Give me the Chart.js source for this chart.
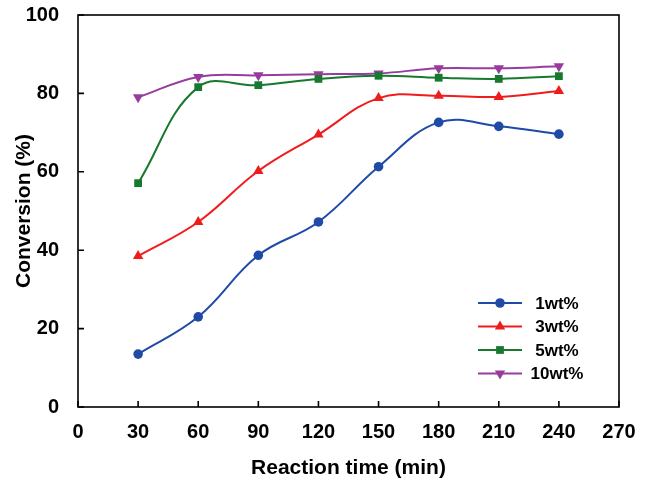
<!DOCTYPE html>
<html><head><meta charset="utf-8">
<script src="https://cdn.jsdelivr.net/npm/chart.js@4/dist/chart.umd.min.js"></script>
<style>html,body{margin:0;padding:0;background:#fff}#wrap{width:655px;height:484px}</style>
</head><body><div id="wrap"><canvas id="c"></canvas></div>
<script>
const times = [30, 60, 90, 120, 150, 180, 210, 240];
const s1wt = [13.5, 23.0, 38.7, 47.2, 61.3, 72.6, 71.6, 69.6];
const s3wt = [38.5, 47.2, 60.2, 69.5, 78.8, 79.4, 79.1, 80.6];
const s5wt = [57.1, 81.6, 82.1, 83.7, 84.5, 84.0, 83.7, 84.4];
const s10wt = [79.0, 84.2, 84.6, 84.9, 85.1, 86.4, 86.4, 86.9];
const seriesNames = ['1wt%', '3wt%', '5wt%', '10wt%'];
const xTicks = [0, 30, 60, 90, 120, 150, 180, 210, 240, 270];
const yTicks = [0, 20, 40, 60, 80, 100];

const FONT = "'Liberation Sans', Arial, sans-serif";
const styles = [
  {color:'#1f4aa8', pt:'circle', rot:0, r:4.8},
  {color:'#f01c1c', pt:'triangle', rot:0, r:6},
  {color:'#17792e', pt:'rect', rot:0, r:5.5},
  {color:'#973c9e', pt:'triangle', rot:180, r:6}
];
const vals = [s1wt, s3wt, s5wt, s10wt];
const datasets = vals.map((v,i)=>({
  label: seriesNames[i],
  data: times.map((t,j)=>({x:t, y:v[j]})),
  borderColor: styles[i].color,
  backgroundColor: styles[i].color,
  borderWidth: 2,
  pointStyle: styles[i].pt,
  rotation: styles[i].rot,
  pointRadius: styles[i].r,
  pointHoverRadius: styles[i].r,
  pointBorderWidth: 0,
  tension: 0.4,
  cubicInterpolationMode: 'default'
}));

const framePlugin = {
  id:'frame',
  afterDraw(chart){
    const {ctx, chartArea:a, scales:{x,y}} = chart;
    ctx.save();
    ctx.strokeStyle='#000'; ctx.lineWidth=1.6;
    ctx.strokeRect(a.left, a.top, a.right-a.left, a.bottom-a.top);
    ctx.beginPath();
    xTicks.forEach(t=>{const px=x.getPixelForValue(t); ctx.moveTo(px,a.bottom); ctx.lineTo(px,a.bottom-6);});
    yTicks.forEach(t=>{const py=y.getPixelForValue(t); ctx.moveTo(a.left,py); ctx.lineTo(a.left+6,py);});
    ctx.stroke();
    // legend
    const lx = a.left + 400, ly0 = a.top + 288, dy = 23.5;
    chart.data.datasets.forEach((ds,i)=>{
      const yy = ly0 + i*dy;
      ctx.strokeStyle = ds.borderColor; ctx.lineWidth=2;
      ctx.beginPath(); ctx.moveTo(lx,yy); ctx.lineTo(lx+44,yy); ctx.stroke();
      ctx.fillStyle = ds.backgroundColor;
      Chart.helpers.drawPoint(ctx, {pointStyle: ds.pointStyle, rotation: ds.rotation, radius: ds.pointRadius, borderWidth:0}, lx+22, yy);
      ctx.fillStyle='#000'; ctx.font = "bold 17px "+FONT; ctx.textBaseline='middle'; ctx.textAlign='center';
      ctx.fillText(ds.label, lx+79, yy+1);
    });
    ctx.restore();
  }
};

new Chart(document.getElementById('c'), {
  type:'line',
  data:{datasets},
  options:{
    responsive:true, maintainAspectRatio:false, animation:false,
    layout:{padding:{left:0, right:36, top:15, bottom:0}},
    plugins:{legend:{display:false}, tooltip:{enabled:false}},
    scales:{
      x:{type:'linear', min:0, max:270,
        afterBuildTicks(s){ s.ticks = xTicks.map(v=>({value:v})); },
        afterFit(s){ s.height = 77; s.paddingLeft = 0; s.paddingRight = 0; },
        grid:{display:false}, border:{display:false},
        ticks:{color:'#000', font:{family:FONT, size:20, weight:'bold'}, padding:5, maxRotation:0, autoSkip:false},
        title:{display:true, text:'Reaction time (min)', color:'#000', font:{family:FONT, size:21, weight:'bold'}, padding:{top:0, bottom:3}}
      },
      y:{type:'linear', min:0, max:100,
        afterBuildTicks(s){ s.ticks = yTicks.map(v=>({value:v})); },
        afterFit(s){ s.width = 78; s.paddingTop = 0; s.paddingBottom = 0; },
        grid:{display:false}, border:{display:false},
        ticks:{color:'#000', font:{family:FONT, size:20, weight:'bold'}, padding:11},
        title:{display:true, text:'Conversion (%)', color:'#000', font:{family:FONT, size:21, weight:'bold'}, padding:{top:12, bottom:0}}
      }
    }
  },
  plugins:[framePlugin]
});
</script></body></html>
